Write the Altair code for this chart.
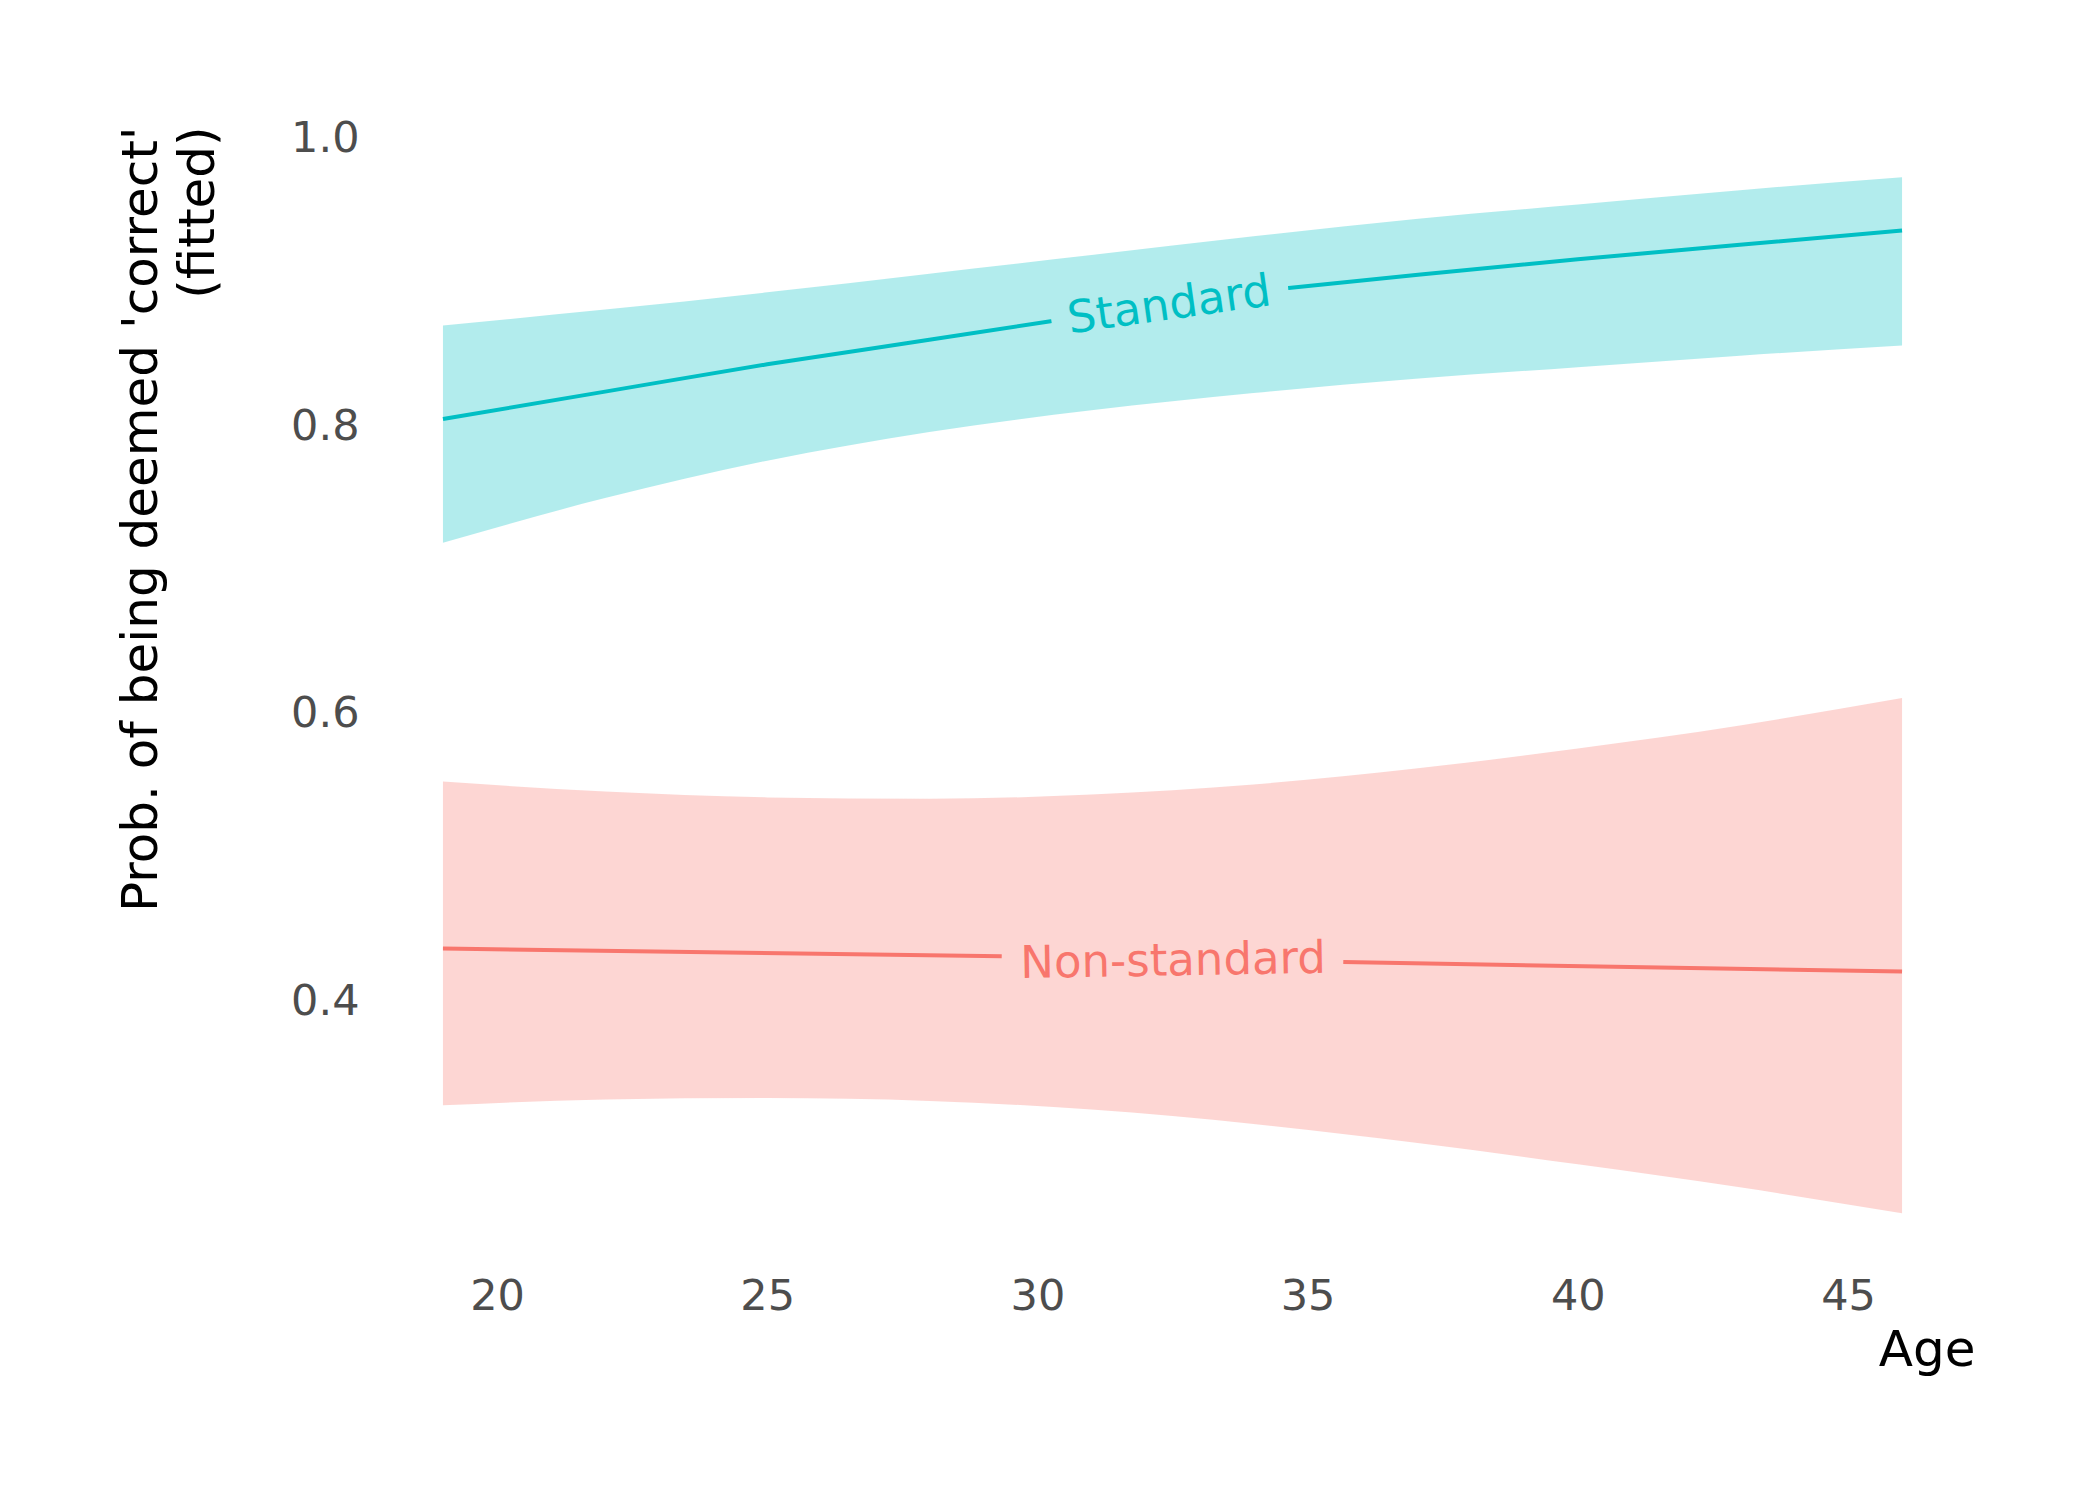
import altair as alt
import pandas as pd

# ---- data ----
ages = [19, 22, 25, 28, 31, 34, 37, 40, 43, 46]

std_upper = [0.870, 0.881, 0.893, 0.906, 0.919, 0.932, 0.944, 0.954, 0.964, 0.973]
std_lower = [0.719, 0.750, 0.776, 0.796, 0.811, 0.823, 0.833, 0.841, 0.849, 0.856]
non_upper = [0.553, 0.546, 0.542, 0.541, 0.544, 0.551, 0.562, 0.576, 0.592, 0.611]
non_lower = [0.328, 0.332, 0.333, 0.331, 0.325, 0.315, 0.302, 0.287, 0.271, 0.253]

# fitted lines (split where the in-line label sits)
std_line_age = [19, 22, 25, 28, 30.26, 34.64, 37, 40, 43, 46]
std_line_val = [0.805, 0.824, 0.843, 0.860, 0.873, 0.896, 0.905, 0.916, 0.926, 0.936]
std_line_seg = [1, 1, 1, 1, 1, 2, 2, 2, 2, 2]
non_line_age = [19, 29.34, 35.66, 46]
non_line_val = [0.437, 0.4315, 0.4275, 0.421]
non_line_seg = [1, 1, 2, 2]

groups = ["Non-standard", "Standard"]
label_age = [32.51, 32.44]
label_val = [0.428, 0.884]

x_ticks = [20, 25, 30, 35, 40, 45]
y_ticks = [0.4, 0.6, 0.8, 1.0]

colors = ["#F8766D", "#00BFC4"]

band_df = pd.DataFrame({
    "age": ages * 2,
    "lower": non_lower + std_lower,
    "upper": non_upper + std_upper,
    "group": ["Non-standard"] * len(ages) + ["Standard"] * len(ages),
})
line_df = pd.DataFrame({
    "age": non_line_age + std_line_age,
    "val": non_line_val + std_line_val,
    "seg": [f"n{s}" for s in non_line_seg] + [f"s{s}" for s in std_line_seg],
    "group": ["Non-standard"] * len(non_line_age) + ["Standard"] * len(std_line_age),
})
label_df = pd.DataFrame({"age": label_age, "val": label_val, "group": groups})

xs = alt.Scale(domain=[17.65, 47.35], nice=False, zero=False)
ys = alt.Scale(domain=[0.217, 1.01], nice=False, zero=False)
cs = alt.Scale(domain=groups, range=colors)

x_axis = alt.Axis(values=x_ticks, title="Age", titleAnchor="end", titleAlign="right",
                  titleX=1605, titleY=100, titleBaseline="alphabetic", labelPadding=10)
y_axis = alt.Axis(values=y_ticks, format=".1f",
                  title=["Prob. of being deemed 'correct'", "(fitted)"],
                  titleAngle=270, titleAlign="right", titleBaseline="top",
                  titleX=-254, titleY=2, titleLineHeight=57, labelPadding=11)

band = alt.Chart(band_df).mark_area(opacity=0.3, interpolate="monotone").encode(
    x=alt.X("age:Q", scale=xs, axis=x_axis),
    y=alt.Y("lower:Q", scale=ys, axis=y_axis),
    y2="upper:Q",
    color=alt.Color("group:N", scale=cs, legend=None),
)

line = alt.Chart(line_df).mark_line(strokeWidth=4, interpolate="monotone").encode(
    x=alt.X("age:Q", scale=xs),
    y=alt.Y("val:Q", scale=ys),
    detail="seg:N",
    color=alt.Color("group:N", scale=cs, legend=None),
)

txt_std = alt.Chart(label_df).transform_filter(alt.datum.group == "Standard").mark_text(
    angle=352, fontSize=45, font="DejaVu Sans", baseline="middle", align="center", color="#00BFC4"
).encode(x=alt.X("age:Q", scale=xs), y=alt.Y("val:Q", scale=ys), text="group:N")

txt_non = alt.Chart(label_df).transform_filter(alt.datum.group == "Non-standard").mark_text(
    angle=359, fontSize=45, font="DejaVu Sans", baseline="middle", align="center", color="#F8766D"
).encode(x=alt.X("age:Q", scale=xs), y=alt.Y("val:Q", scale=ys), text="group:N")

chart = alt.layer(band, line, txt_std, txt_non).properties(
    width=1605, height=1141,
    padding={"left": 362, "top": 116, "right": 100, "bottom": 200},
    autosize=alt.AutoSizeParams(type="none"),
).configure_view(stroke=None).configure_axis(
    domain=False, ticks=False, grid=False,
    labelColor="#4D4D4D", labelFont="DejaVu Sans", labelFontSize=43,
    titleColor="#000000", titleFont="DejaVu Sans", titleFontSize=50, titleFontWeight="normal",
)

chart.save("out.html", embed_options={"renderer": "svg", "actions": False})
